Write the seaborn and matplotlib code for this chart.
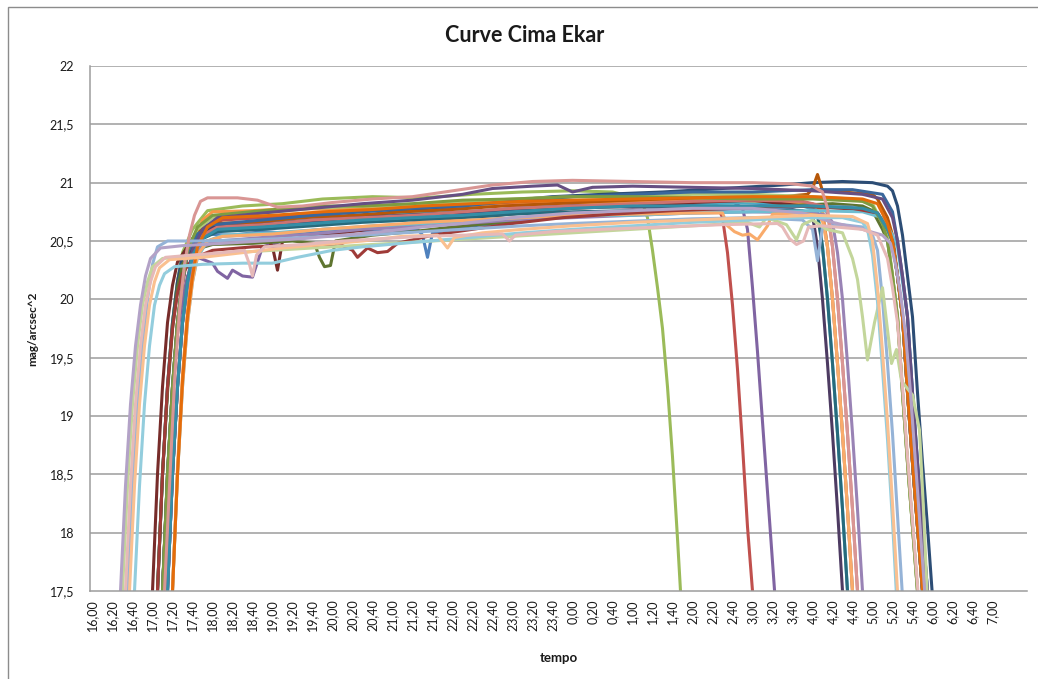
import matplotlib
matplotlib.use("Agg")
import matplotlib.pyplot as plt
import seaborn as sns
import pandas as pd
from matplotlib.patches import Rectangle
from matplotlib.ticker import FixedLocator

# ---------------- data ----------------
title = "Curve Cima Ekar"
y_label = "mag/arcsec^2"
x_label = "tempo"

y_ticks = [17.5, 18, 18.5, 19, 19.5, 20, 20.5, 21, 21.5, 22]
y_tick_labels = ["17,5", "18", "18,5", "19", "19,5", "20", "20,5", "21", "21,5", "22"]

x_tick_labels = ["16,00", "16,20", "16,40", "17,00", "17,20", "17,40", "18,00", "18,20", "18,40",
                 "19,00", "19,20", "19,40", "20,00", "20,20", "20,40", "21,00", "21,20", "21,40",
                 "22,00", "22,20", "22,40", "23,00", "23,20", "23,40", "0,00", "0,20", "0,40",
                 "1,00", "1,20", "1,40", "2,00", "2,20", "2,40", "3,00", "3,20", "3,40",
                 "4,00", "4,20", "4,40", "5,00", "5,20", "5,40", "6,00", "6,20", "6,40", "7,00"]

s01 = [("17:00",16.6),("17:05",17.5),("17:10",18.5),("17:15",19.25),("17:20",19.8),("17:25",20.15),("17:30",20.38),("17:35",20.48),("17:50",20.56),("18:20",20.55),("18:50",20.58),("19:30",20.56),("20:10",20.6),("20:50",20.58),("21:25",20.6),("21:30",20.55),("21:35",20.36),("21:40",20.57),("22:20",20.63),("23:00",20.66),("23:40",20.7),("0:30",20.72),("1:20",20.75),("2:10",20.78),("3:00",20.8),("3:40",20.82),("4:05",20.8),("4:10",20.74),("4:15",20.45),("4:20",20.0),("4:25",19.45),("4:30",18.85),("4:35",18.2),("4:40",17.5),("4:45",16.8)]
s02 = [("17:05",16.6),("17:10",17.5),("17:15",18.45),("17:20",19.2),("17:25",19.75),("17:30",20.12),("17:35",20.38),("17:40",20.52),("17:50",20.62),("18:10",20.68),("18:50",20.7),("19:30",20.72),("20:20",20.75),("21:00",20.78),("21:40",20.76),("22:20",20.8),("23:00",20.82),("23:50",20.85),("0:40",20.84),("1:30",20.86),("2:10",20.85),("2:25",20.8),("2:30",20.7),("2:35",20.4),("2:40",19.95),("2:45",19.4),("2:50",18.75),("2:55",18.05),("3:00",17.5),("3:05",16.9)]
s03 = [("17:00",16.6),("17:05",17.5),("17:10",18.5),("17:15",19.25),("17:20",19.8),("17:25",20.15),("17:30",20.4),("17:40",20.6),("17:55",20.76),("18:30",20.8),("19:10",20.82),("19:50",20.86),("20:40",20.88),("21:30",20.87),("22:20",20.9),("23:10",20.92),("0:00",20.93),("0:40",20.92),("1:00",20.88),("1:10",20.83),("1:15",20.7),("1:20",20.42),("1:25",20.1),("1:30",19.75),("1:35",19.25),("1:40",18.65),("1:45",17.95),("1:50",17.2)]
s04 = [("17:05",16.6),("17:10",17.5),("17:15",18.45),("17:20",19.2),("17:25",19.7),("17:30",20.0),("17:35",20.2),("17:45",20.36),("18:00",20.31),("18:05",20.24),("18:15",20.18),("18:20",20.25),("18:30",20.2),("18:40",20.19),("18:50",20.45),("19:10",20.5),("19:50",20.56),("20:30",20.6),("21:10",20.64),("21:50",20.7),("22:30",20.75),("23:20",20.8),("0:10",20.82),("1:00",20.84),("1:50",20.85),("2:40",20.84),("2:50",20.78),("2:55",20.6),("3:00",20.1),("3:05",19.55),("3:10",18.95),("3:15",18.35),("3:20",17.75),("3:25",17.15)]
s05 = [("17:05",16.6),("17:10",17.5),("17:15",18.5),("17:20",19.25),("17:25",19.8),("17:30",20.15),("17:35",20.4),("17:45",20.56),("18:00",20.64),("18:40",20.66),("19:20",20.68),("20:00",20.7),("20:50",20.72),("21:40",20.74),("22:30",20.76),("23:20",20.79),("0:10",20.8),("1:10",20.81),("2:10",20.82),("3:10",20.83),("3:50",20.8),("4:05",20.76),("4:10",20.45),("4:15",20.0),("4:20",19.45),("4:25",18.85),("4:30",18.2),("4:35",17.5),("4:40",16.8)]
s06 = [("17:15",16.6),("17:20",17.5),("17:25",18.55),("17:30",19.35),("17:35",19.9),("17:40",20.3),("17:45",20.55),("17:50",20.68),("18:00",20.75),("18:40",20.76),("19:20",20.78),("20:10",20.77),("21:00",20.79),("21:50",20.8),("22:40",20.8),("23:30",20.82),("0:20",20.83),("1:20",20.84),("2:20",20.85),("3:20",20.84),("4:00",20.82),("4:10",20.76),("4:15",20.45),("4:20",20.0),("4:25",19.45),("4:30",18.85),("4:35",18.2),("4:40",17.5),("4:45",16.8)]
s07 = [("17:00",16.6),("17:05",17.5),("17:10",18.5),("17:15",19.25),("17:20",19.8),("17:25",20.15),("17:30",20.38),("17:40",20.52),("18:00",20.6),("18:40",20.62),("19:30",20.66),("20:20",20.7),("21:10",20.76),("22:00",20.8),("22:50",20.84),("23:40",20.88),("0:30",20.9),("1:30",20.92),("2:30",20.95),("3:30",20.98),("4:00",21.0),("4:30",21.01),("5:00",21.0),("5:15",20.97),("5:20",20.93),("5:25",20.8),("5:30",20.55),("5:35",20.2),("5:40",19.85),("5:45",19.2),("5:50",18.6),("5:55",18.05),("6:00",17.45),("6:05",16.8)]
s08 = [("16:55",16.6),("17:00",17.5),("17:05",18.5),("17:10",19.25),("17:15",19.8),("17:20",20.12),("17:25",20.32),("17:35",20.45),("17:55",20.5),("18:30",20.5),("18:55",20.52),("19:00",20.45),("19:05",20.25),("19:10",20.5),("19:40",20.54),("20:20",20.58),("21:00",20.63),("21:40",20.66),("22:20",20.7),("23:10",20.74),("0:00",20.78),("1:00",20.8),("2:00",20.83),("3:00",20.85),("3:50",20.8),("4:30",20.78),("5:05",20.74),("5:15",20.6),("5:20",20.5),("5:25",20.2),("5:30",19.85),("5:35",19.2),("5:40",18.6),("5:45",18.05),("5:50",17.5),("5:55",16.8)]
s09 = [("17:00",16.6),("17:05",17.5),("17:10",18.5),("17:15",19.2),("17:20",19.75),("17:25",20.1),("17:30",20.3),("17:40",20.42),("18:00",20.47),("18:40",20.48),("19:20",20.5),("19:42",20.48),("19:47",20.36),("19:52",20.28),("19:58",20.29),("20:03",20.5),("20:40",20.55),("21:20",20.58),("22:00",20.62),("22:50",20.66),("23:40",20.7),("0:30",20.73),("1:30",20.76),("2:30",20.78),("3:30",20.8),("4:20",20.82),("4:50",20.8),("5:00",20.76),("5:10",20.6),("5:15",20.5),("5:20",20.2),("5:25",19.85),("5:30",19.2),("5:35",18.6),("5:40",18.05),("5:45",17.5),("5:50",16.8)]
s10 = [("17:05",16.6),("17:10",17.5),("17:15",18.5),("17:20",19.25),("17:25",19.8),("17:30",20.15),("17:35",20.38),("17:45",20.55),("18:00",20.62),("18:40",20.64),("19:30",20.67),("20:20",20.7),("21:10",20.72),("22:00",20.74),("23:00",20.77),("0:00",20.8),("1:00",20.79),("2:00",20.8),("3:00",20.78),("3:40",20.77),("4:00",20.72),("4:05",20.45),("4:10",20.0),("4:15",19.45),("4:20",18.85),("4:25",18.2),("4:30",17.5),("4:35",16.8)]
s11 = [("17:10",16.6),("17:15",17.5),("17:20",18.5),("17:25",19.25),("17:30",19.8),("17:35",20.15),("17:40",20.38),("17:50",20.52),("18:05",20.58),("18:50",20.6),("19:40",20.63),("20:30",20.66),("21:20",20.68),("22:10",20.7),("23:00",20.73),("0:00",20.75),("1:00",20.76),("2:00",20.78),("3:00",20.78),("3:50",20.76),("4:05",20.72),("4:10",20.45),("4:15",20.0),("4:20",19.45),("4:25",18.85),("4:30",18.2),("4:35",17.5),("4:40",16.8)]
s12 = [("17:05",16.6),("17:10",17.5),("17:15",18.5),("17:20",19.25),("17:25",19.8),("17:30",20.15),("17:35",20.4),("17:45",20.58),("18:00",20.65),("18:40",20.66),("19:30",20.7),("20:20",20.72),("21:10",20.75),("22:00",20.77),("22:50",20.8),("23:40",20.82),("0:30",20.84),("1:30",20.86),("2:30",20.88),("3:30",20.88),("3:55",20.9),("4:00",20.95),("4:05",21.07),("4:10",20.93),("4:30",20.92),("5:00",20.9),("5:05",20.86),("5:15",20.7),("5:20",20.55),("5:25",20.2),("5:30",19.85),("5:35",19.2),("5:40",18.6),("5:45",18.05),("5:50",17.5),("5:55",16.8)]
s13 = [("17:10",16.6),("17:15",17.5),("17:20",18.5),("17:25",19.25),("17:30",19.8),("17:35",20.15),("17:40",20.35),("17:50",20.48),("18:10",20.54),("19:00",20.56),("19:50",20.6),("20:40",20.62),("21:30",20.65),("22:20",20.68),("23:10",20.7),("0:00",20.72),("1:00",20.74),("2:00",20.76),("3:00",20.78),("4:00",20.8),("4:40",20.79),("5:05",20.74),("5:15",20.6),("5:20",20.5),("5:25",20.2),("5:30",19.85),("5:35",19.2),("5:40",18.6),("5:45",18.05),("5:50",17.5),("5:55",16.8)]
s14 = [("17:10",16.6),("17:15",17.5),("17:20",18.5),("17:25",19.25),("17:30",19.8),("17:35",20.15),("17:40",20.4),("17:50",20.55),("18:05",20.62),("18:50",20.64),("19:40",20.68),("20:30",20.7),("21:20",20.72),("22:10",20.75),("23:00",20.78),("0:00",20.8),("1:00",20.82),("2:00",20.84),("3:00",20.85),("3:50",20.84),("4:10",20.8),("4:15",20.74),("4:20",20.45),("4:25",20.0),("4:30",19.45),("4:35",18.85),("4:40",18.2),("4:45",17.5),("4:50",16.8)]
s15 = [("17:05",16.6),("17:10",17.5),("17:15",18.5),("17:20",19.25),("17:25",19.8),("17:30",20.15),("17:35",20.42),("17:45",20.6),("18:00",20.7),("18:50",20.74),("19:40",20.78),("20:30",20.8),("21:20",20.8),("22:10",20.83),("23:00",20.86),("0:00",20.88),("1:00",20.88),("2:00",20.9),("3:00",20.9),("4:00",20.88),("4:40",20.86),("5:00",20.82),("5:10",20.65),("5:15",20.55),("5:20",20.2),("5:25",19.85),("5:30",19.2),("5:35",18.6),("5:40",18.05),("5:45",17.5),("5:50",16.8)]
s16 = [("17:10",16.6),("17:15",17.5),("17:20",18.5),("17:25",19.25),("17:30",19.8),("17:35",20.12),("17:40",20.32),("17:50",20.45),("18:05",20.5),("18:50",20.53),("19:40",20.56),("20:30",20.6),("21:20",20.62),("22:10",20.65),("23:00",20.68),("0:00",20.7),("1:00",20.72),("2:00",20.74),("3:00",20.75),("4:00",20.74),("4:15",20.72),("4:20",20.66),("4:25",20.4),("4:30",20.0),("4:35",19.45),("4:40",18.85),("4:45",18.2),("4:50",17.5),("4:55",16.8)]
s17 = [("17:15",16.6),("17:20",17.5),("17:25",18.5),("17:30",19.25),("17:35",19.8),("17:40",20.15),("17:45",20.36),("17:55",20.5),("18:10",20.55),("19:00",20.57),("19:50",20.6),("20:40",20.63),("21:30",20.65),("22:20",20.68),("23:10",20.7),("0:00",20.72),("1:00",20.72),("2:00",20.74),("3:00",20.75),("4:00",20.76),("4:50",20.75),("5:10",20.7),("5:20",20.55),("5:25",20.45),("5:30",20.15),("5:35",19.85),("5:40",19.2),("5:45",18.6),("5:50",18.05),("5:55",17.5),("6:00",16.8)]
s18 = [("17:15",16.6),("17:20",17.5),("17:25",18.5),("17:30",19.25),("17:35",19.8),("17:40",20.15),("17:45",20.38),("17:55",20.5),("18:10",20.54),("19:00",20.56),("19:50",20.6),("20:40",20.63),("21:30",20.66),("22:20",20.68),("23:10",20.7),("0:00",20.72),("1:00",20.73),("2:00",20.74),("2:30",20.74),("2:35",20.63),("2:42",20.58),("2:50",20.55),("2:57",20.56),("3:05",20.51),("3:15",20.63),("3:20",20.73),("3:45",20.74),("4:05",20.72),("4:10",20.67),("4:15",20.45),("4:20",20.0),("4:25",19.45),("4:30",18.85),("4:35",18.2),("4:40",17.5),("4:45",16.8)]
s19 = [("17:05",16.6),("17:10",17.5),("17:15",18.5),("17:20",19.25),("17:25",19.8),("17:30",20.15),("17:35",20.4),("17:45",20.56),("18:00",20.64),("18:50",20.68),("19:40",20.72),("20:30",20.75),("21:20",20.78),("22:10",20.8),("23:00",20.84),("0:00",20.88),("1:00",20.9),("2:00",20.92),("3:00",20.92),("4:00",20.94),("4:40",20.94),("5:10",20.9),("5:20",20.75),("5:25",20.5),("5:30",20.2),("5:35",19.85),("5:40",19.2),("5:45",18.6),("5:50",18.05),("5:55",17.5),("6:00",16.8)]
s20 = [("17:00",16.6),("17:05",17.5),("17:10",18.5),("17:15",19.25),("17:20",19.75),("17:25",20.05),("17:30",20.22),("17:40",20.35),("18:00",20.42),("18:40",20.45),("19:20",20.46),("19:50",20.45),("20:10",20.46),("20:20",20.42),("20:25",20.36),("20:35",20.44),("20:45",20.4),("20:55",20.41),("21:05",20.48),("21:40",20.55),("22:20",20.6),("23:00",20.65),("23:50",20.7),("0:40",20.73),("1:40",20.76),("2:40",20.78),("3:40",20.8),("4:40",20.78),("5:05",20.74),("5:15",20.6),("5:20",20.5),("5:25",20.2),("5:30",19.85),("5:35",19.2),("5:40",18.6),("5:45",18.05),("5:50",17.5),("5:55",16.8)]
s21 = [("17:05",16.6),("17:10",17.5),("17:15",18.5),("17:20",19.25),("17:25",19.8),("17:30",20.15),("17:35",20.42),("17:45",20.62),("18:00",20.72),("18:50",20.76),("19:40",20.8),("20:30",20.8),("21:20",20.82),("22:10",20.85),("23:00",20.86),("0:00",20.88),("1:00",20.88),("2:00",20.87),("3:00",20.86),("4:00",20.86),("4:50",20.84),("5:00",20.8),("5:10",20.65),("5:15",20.5),("5:20",20.2),("5:25",19.85),("5:30",19.2),("5:35",18.6),("5:40",18.05),("5:45",17.5),("5:50",16.8)]
s22 = [("17:10",16.6),("17:15",17.5),("17:20",18.5),("17:25",19.25),("17:30",19.8),("17:35",20.15),("17:40",20.42),("17:50",20.6),("18:05",20.7),("18:50",20.74),("19:40",20.78),("20:30",20.82),("21:20",20.85),("22:10",20.9),("22:40",20.95),("23:20",20.97),("23:45",20.98),("0:00",20.92),("0:20",20.96),("1:00",20.97),("2:00",20.96),("3:00",20.95),("4:00",20.93),("4:50",20.9),("5:10",20.86),("5:20",20.7),("5:25",20.5),("5:30",20.2),("5:35",19.85),("5:40",19.2),("5:45",18.6),("5:50",18.05),("5:55",17.5),("6:00",16.8)]
s23 = [("17:10",16.6),("17:15",17.5),("17:20",18.5),("17:25",19.25),("17:30",19.8),("17:35",20.15),("17:40",20.38),("17:50",20.52),("18:05",20.6),("18:50",20.62),("19:40",20.65),("20:30",20.68),("21:20",20.7),("22:10",20.72),("23:00",20.75),("0:00",20.78),("1:00",20.8),("2:00",20.8),("3:00",20.8),("4:00",20.8),("4:50",20.78),("5:05",20.74),("5:15",20.6),("5:20",20.5),("5:25",20.2),("5:30",19.85),("5:35",19.2),("5:40",18.6),("5:45",18.05),("5:50",17.5),("5:55",16.8)]
s24 = [("17:15",16.6),("17:20",17.5),("17:25",18.5),("17:30",19.3),("17:35",19.85),("17:40",20.2),("17:45",20.45),("17:55",20.62),("18:10",20.7),("19:00",20.72),("19:50",20.75),("20:40",20.77),("21:30",20.8),("22:20",20.82),("23:10",20.84),("0:00",20.85),("1:00",20.86),("2:00",20.87),("3:00",20.88),("4:00",20.88),("4:50",20.86),("5:05",20.82),("5:15",20.65),("5:20",20.5),("5:25",20.2),("5:30",19.85),("5:35",19.2),("5:40",18.6),("5:45",18.05),("5:50",17.5),("5:55",16.8)]
s25 = [("16:30",16.7),("16:35",17.5),("16:40",18.4),("16:45",19.1),("16:50",19.6),("16:55",20.0),("17:00",20.3),("17:05",20.45),("17:15",20.5),("17:50",20.5),("18:30",20.51),("19:10",20.52),("19:50",20.54),("20:30",20.55),("21:10",20.57),("21:50",20.59),("22:30",20.61),("23:10",20.63),("0:00",20.65),("1:00",20.67),("2:00",20.69),("3:00",20.7),("3:50",20.68),("4:00",20.6),("4:05",20.33),("4:10",20.62),("4:30",20.64),("4:50",20.62),("5:00",20.55),("5:05",20.42),("5:10",20.0),("5:15",19.45),("5:20",18.85),("5:25",18.15),("5:30",17.45),("5:35",16.8)]
s26 = [("17:08",16.7),("17:12",17.5),("17:17",18.4),("17:22",19.3),("17:27",19.9),("17:32",20.3),("17:37",20.55),("17:42",20.72),("17:48",20.84),("17:55",20.87),("18:25",20.87),("18:45",20.85),("19:05",20.79),("19:30",20.8),("20:00",20.83),("20:40",20.86),("21:20",20.88),("22:00",20.93),("22:40",20.98),("23:20",21.01),("0:00",21.02),("1:00",21.01),("2:00",21.0),("3:00",21.0),("3:40",20.99),("4:00",20.97),("4:10",20.92),("4:15",20.78),("4:20",20.45),("4:25",20.0),("4:30",19.45),("4:35",18.85),("4:40",18.2),("4:45",17.5),("4:50",16.8)]
s27 = [("16:25",16.7),("16:30",17.5),("16:35",18.4),("16:40",19.1),("16:45",19.6),("16:50",19.95),("16:55",20.15),("17:00",20.28),("17:10",20.35),("17:40",20.37),("18:20",20.4),("19:00",20.42),("19:40",20.44),("20:20",20.46),("21:00",20.48),("21:40",20.5),("22:20",20.52),("23:00",20.54),("23:40",20.56),("0:20",20.58),("1:00",20.6),("1:40",20.62),("2:20",20.64),("2:55",20.66),("3:07",20.62),("3:14",20.7),("3:34",20.64),("3:44",20.51),("3:50",20.64),("4:00",20.68),("4:14",20.6),("4:30",20.57),("4:40",20.35),("4:45",20.17),("4:50",19.85),("4:55",19.48),("5:02",19.8),("5:10",20.1),("5:19",19.45),("5:24",19.57),("5:29",19.3),("5:40",19.18),("5:47",18.88),("5:51",18.2),("5:55",17.4),("6:00",16.8)]
s28 = [("16:23",16.7),("16:28",17.5),("16:33",18.4),("16:38",19.1),("16:43",19.6),("16:48",19.95),("16:53",20.2),("16:58",20.35),("17:08",20.44),("17:30",20.46),("18:10",20.48),("18:50",20.5),("19:30",20.52),("20:10",20.55),("20:50",20.58),("21:30",20.62),("22:10",20.65),("23:00",20.7),("0:00",20.74),("1:00",20.76),("2:00",20.78),("3:00",20.78),("3:50",20.74),("4:20",20.66),("4:50",20.6),("5:10",20.55),("5:18",20.48),("5:23",20.3),("5:28",20.05),("5:33",19.7),("5:38",19.2),("5:43",18.6),("5:48",18.0),("5:53",17.4),("5:58",16.8)]
s29 = [("16:37",16.7),("16:42",17.5),("16:47",18.4),("16:52",19.1),("16:57",19.6),("17:02",19.95),("17:07",20.12),("17:12",20.22),("17:22",20.28),("17:50",20.3),("18:30",20.31),("19:00",20.31),("19:25",20.36),("20:00",20.42),("20:30",20.45),("21:10",20.48),("21:50",20.51),("22:30",20.54),("23:10",20.57),("0:00",20.6),("1:00",20.63),("2:00",20.66),("3:00",20.68),("3:40",20.7),("4:30",20.7),("4:50",20.66),("4:55",20.6),("5:00",20.38),("5:05",19.98),("5:10",19.4),("5:15",18.8),("5:20",18.1),("5:25",17.3),("5:30",16.7)]
s30 = [("16:32",16.7),("16:37",17.5),("16:42",18.4),("16:47",19.1),("16:52",19.6),("16:57",19.95),("17:02",20.15),("17:07",20.27),("17:17",20.34),("17:50",20.36),("18:30",20.4),("19:10",20.44),("19:50",20.47),("20:30",20.5),("21:10",20.54),("21:45",20.55),("21:55",20.44),("22:02",20.53),("22:30",20.57),("23:10",20.6),("0:00",20.63),("1:00",20.66),("2:00",20.68),("3:00",20.7),("4:00",20.72),("4:40",20.71),("4:55",20.65),("5:00",20.5),("5:05",20.1),("5:10",19.55),("5:15",18.95),("5:20",18.25),("5:25",17.5),("5:30",16.8)]
s31 = [("16:28",16.7),("16:33",17.5),("16:38",18.4),("16:43",19.1),("16:48",19.6),("16:53",19.95),("16:58",20.15),("17:03",20.28),("17:13",20.36),("17:40",20.38),("18:10",20.4),("18:32",20.42),("18:37",20.3),("18:40",20.2),("18:44",20.38),("18:52",20.45),("19:30",20.47),("20:10",20.5),("20:50",20.52),("21:30",20.54),("22:10",20.55),("22:50",20.56),("22:57",20.5),("23:03",20.55),("23:40",20.58),("0:30",20.6),("1:30",20.62),("2:30",20.64),("3:25",20.65),("3:30",20.62),("3:37",20.52),("3:44",20.47),("3:51",20.5),("3:56",20.62),("4:10",20.63),("4:50",20.6),("5:05",20.55),("5:15",20.35),("5:20",20.1),("5:25",19.8),("5:30",19.25),("5:35",18.65),("5:40",18.1),("5:45",17.55),("5:50",16.9)]

series_names = ["s01", "s02", "s03", "s04", "s05", "s06", "s07", "s08", "s09", "s10", "s11",
                "s12", "s13", "s14", "s15", "s16", "s17", "s18", "s19", "s20", "s21", "s22",
                "s23", "s24", "s25", "s26", "s27", "s28", "s29", "s30", "s31"]
series_data = [s01, s02, s03, s04, s05, s06, s07, s08, s09, s10, s11, s12, s13, s14, s15, s16,
               s17, s18, s19, s20, s21, s22, s23, s24, s25, s26, s27, s28, s29, s30, s31]
series_colors = ["#4F81BD", "#C0504D", "#9BBB59", "#8064A2", "#4BACC6", "#F79646",
                 "#2C4D75", "#772C2A", "#5F7530", "#4D3B62", "#276A7C", "#B65708",
                 "#729ACA", "#CD7371", "#AFC97A", "#9983B5", "#6FBDD1", "#F9AB6B",
                 "#3A679C", "#9F3B38", "#7E9C40", "#664F83", "#358EA6", "#E46C0A",
                 "#95B3D7", "#D99694", "#C3D69B", "#B3A2C7", "#93CDDD", "#FAC090", "#E6B9B8"]


def to_idx(t):
    """Category index (5-minute slots since 16:00)."""
    h, m = (int(p) for p in t.split(":"))
    minutes = h * 60 + m - 16 * 60
    if minutes < 0:
        minutes += 24 * 60
    return minutes / 5.0


rows = []
for name, pts in zip(series_names, series_data):
    for t, v in pts:
        rows.append({"series": name, "idx": to_idx(t), "value": v})
df = pd.DataFrame(rows)

# ---------------- figure ----------------
sns.set_style("white")
plt.rcParams["font.family"] = ["Lato", "DejaVu Sans"]

W, H = 1038, 679
fig = plt.figure(figsize=(W / 100, H / 100), dpi=100)
ax = fig.add_axes([90 / W, 1 - 591 / H, 937 / W, 525 / H])

sns.lineplot(data=df, x="idx", y="value", hue="series", hue_order=series_names,
             palette=dict(zip(series_names, series_colors)), sort=False, estimator=None,
             legend=False, linewidth=2.2, ax=ax)

grid_col = "#9c9c9c"
ax.set_ylim(17.5, 22)
ax.set_xlim(-0.5, 186.9)
ax.set_yticks(y_ticks)
ax.set_yticklabels(y_tick_labels)
for yv in y_ticks[1:]:
    ax.axhline(yv, color=grid_col, lw=1.1, zorder=0)

major_pos = [i * 4 for i in range(len(x_tick_labels))]
ax.set_xticks(major_pos)
ax.set_xticklabels(x_tick_labels, rotation=90)
ax.xaxis.set_minor_locator(FixedLocator([i + 0.5 for i in range(-1, 187)]))

ax.tick_params(axis="x", which="major", length=0, pad=6, labelsize=9, labelcolor="#1a1a1a")
ax.tick_params(axis="x", which="minor", length=3, width=0.9, color=grid_col, direction="out")
ax.tick_params(axis="y", which="major", length=3.5, width=0.9, color=grid_col, direction="out",
               pad=8, labelsize=9, labelcolor="#1a1a1a")

for side in ["top", "right"]:
    ax.spines[side].set_visible(False)
for side in ["left", "bottom"]:
    ax.spines[side].set_color(grid_col)
    ax.spines[side].set_linewidth(1.1)

ax.set_xlabel(x_label, fontsize=9.5, fontweight="bold", labelpad=15, color="#1a1a1a")
ax.set_ylabel(y_label, fontsize=8.5, fontweight="bold", labelpad=8, color="#1a1a1a")
fig.text(525 / W, 1 - 35 / H, title, ha="center", va="center", fontsize=15.5,
         fontweight="bold", color="#1a1a1a")

# chart-area border
fig.add_artist(Rectangle((8 / W, -0.01), 1.2, (679 - 7) / H + 0.01, transform=fig.transFigure,
                         fill=False, edgecolor="#8c8c8c", linewidth=1.0))

fig.savefig("out.png", dpi=100)
